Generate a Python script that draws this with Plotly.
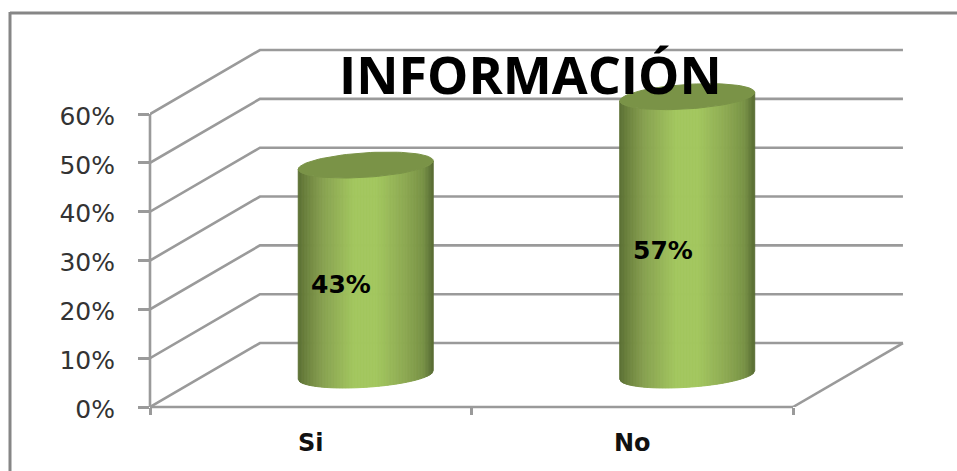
import numpy as np
import plotly.graph_objects as go

categories = ["Si", "No"]
values = [43, 57]
labels = ["43%", "57%"]
y_ticks = [0, 10, 20, 30, 40, 50, 60]
title = "INFORMACIÓN"

# projection of the oblique 3D frame, in axis units
DX = 0.342
DY = 13.1
XL, XR = -0.5, 1.5
R_X = 0.1984
R_BX = 0.0685
R_BY = 2.66
GRID = "#9a9a9a"
STOPS_U = [0.0, 0.06, 0.18, 0.42, 0.58, 0.8, 0.93, 1.0]
STOPS_C = [(90, 110, 52), (108, 130, 62), (135, 160, 80), (163, 199, 95),
           (163, 199, 95), (140, 168, 82), (120, 146, 70), (88, 108, 52)]
TOP_COLOR = "#7a9347"
N = 90

def colour(u):
    c = [np.interp(u, STOPS_U, [s[k] for s in STOPS_C]) for k in range(3)]
    return "rgb(%d,%d,%d)" % tuple(int(round(v)) for v in c)

fig = go.Figure()

# walls and floor
gx, gy = [], []
for v in y_ticks:
    gx += [XL, XL + DX, XR + DX, None]
    gy += [v, v + DY, v + DY, None]
gx += [XR + DX, XR]
gy += [DY, 0]
fig.add_trace(go.Scatter(x=gx, y=gy, mode="lines", line=dict(color=GRID, width=2.6),
                         hoverinfo="skip", showlegend=False))

# cylinders
R = np.hypot(R_X, R_BX)
t0 = np.arctan2(R_BX, R_X)

def ring(cx, cy, t):
    return (cx + R_X * np.cos(t) + R_BX * np.sin(t), cy + R_BY * np.sin(t))

for i, v in enumerate(values):
    cx, cy = i + DX / 2, DY / 2
    us = np.linspace(0, 1, N + 1)
    ts = t0 - np.arccos(2 * us - 1)
    for k in range(N):
        xa, ya = ring(cx, cy, ts[k])
        xb, yb = ring(cx, cy, ts[k + 1])
        c = colour((us[k] + us[k + 1]) / 2)
        fig.add_trace(go.Scatter(
            x=[xa, xb, xb, xa, xa], y=[ya, yb, yb + v, ya + v, ya],
            mode="lines", fill="toself", fillcolor=c, line=dict(color=c, width=1),
            hoverinfo="skip", showlegend=False))
    tt = np.linspace(0, 2 * np.pi, 90)
    ex, ey = ring(cx, cy + v, tt)
    fig.add_trace(go.Scatter(x=ex, y=ey, mode="lines", fill="toself", fillcolor=TOP_COLOR,
                             line=dict(color=TOP_COLOR, width=1),
                             hoverinfo="skip", showlegend=False))
    fig.add_annotation(x=i + 0.095, y=v / 2 + 3.6, text=labels[i], showarrow=False,
                       font=dict(family="DejaVu Sans", size=25, color="#000000", weight="bold"))

fig.add_annotation(xref="paper", yref="paper", x=0.5, y=1.01, text=title, showarrow=False,
                   font=dict(family="Open Sans", size=52, color="#000000", weight="bold"))

fig.update_layout(
    width=957, height=471, autosize=False,
    margin=dict(l=150, r=47, t=40, b=64, autoexpand=False),
    paper_bgcolor="#ffffff", plot_bgcolor="#ffffff", showlegend=False,
    xaxis=dict(range=[XL, XL + 760 / 321.5], tickmode="array", tickvals=[0, 1], ticktext=categories,
               ticks="", showgrid=False, zeroline=False, showline=False,
               ticklabelstandoff=19,
               tickfont=dict(family="DejaVu Sans", size=24, color="#111111", weight="bold"),
               minor=dict(tickmode="array", tickvals=[-0.5, 0.5, 1.5], ticks="outside",
                          ticklen=7, tickwidth=2.6, tickcolor=GRID, showgrid=False)),
    yaxis=dict(range=[0, 367 / 4.883], tickmode="array", tickvals=y_ticks,
               ticktext=[f"{v}%" for v in y_ticks], ticks="outside", ticklen=11, tickwidth=2.6,
               tickcolor=GRID, showgrid=False, zeroline=False, showline=False,
               ticklabelstandoff=18, ticklabelshift=2,
               tickfont=dict(family="DejaVu Sans", size=25, color="#333333")),
    shapes=[
        dict(type="line", xref="paper", yref="y", x0=0, x1=0, y0=0, y1=y_ticks[-1],
             line=dict(color=GRID, width=2.6)),
        dict(type="line", xref="x", yref="paper", x0=XL, x1=XR, y0=0, y1=0,
             line=dict(color=GRID, width=2.6)),
        dict(type="line", xref="paper", yref="paper", x0=-140 / 760, x1=807 / 760,
             y0=(407 - 13) / 367, y1=(407 - 13) / 367, line=dict(color="#868686", width=3)),
        dict(type="line", xref="paper", yref="paper", x0=-140 / 760, x1=-140 / 760,
             y0=(407 - 471) / 367, y1=(407 - 12) / 367, line=dict(color="#868686", width=3)),
    ],
)

fig.write_html("out.html", config=dict(displayModeBar=False),
               post_script="document.body.style.margin='0';document.body.style.overflow='hidden';")
